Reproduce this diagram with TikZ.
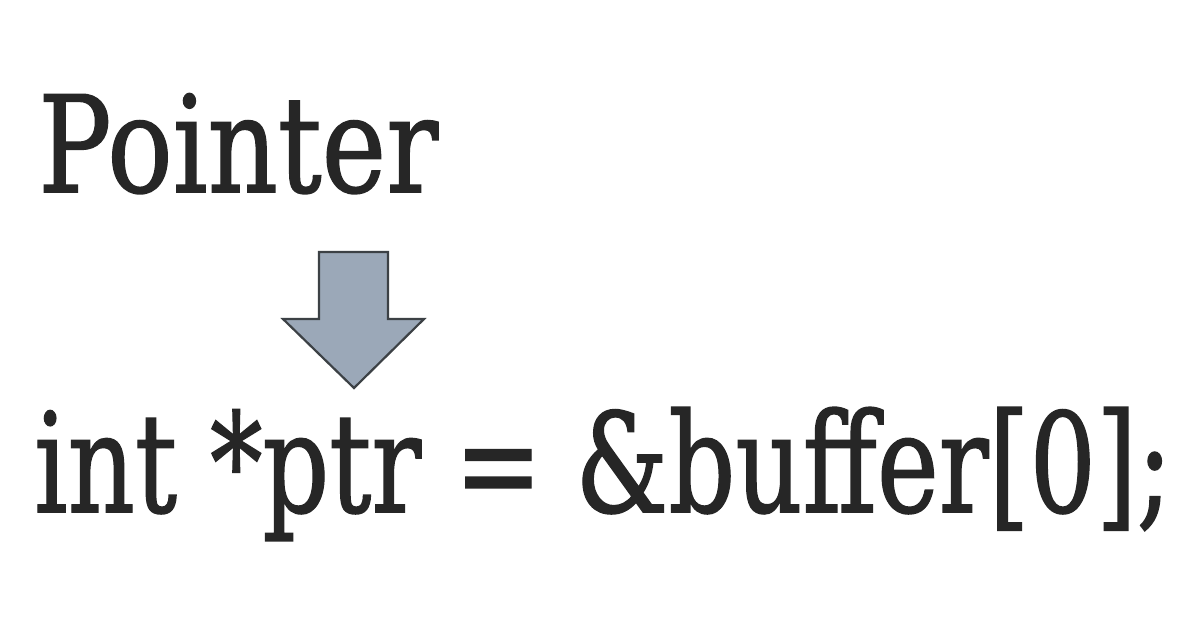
\documentclass[tikz,border=0pt]{standalone}
\usepackage{fontspec}
\setmainfont[FakeBold=1.2]{DejaVu Serif}
\usepackage{graphicx}
\usepackage{xcolor}
\usetikzlibrary{positioning}

\definecolor{textgray}{HTML}{262626}
\definecolor{arrowfill}{HTML}{9BA8B8}
\definecolor{arrowline}{HTML}{3C4145}

% squeeze a text to a given width, keeping its height
\newcommand{\squeezed}[3]{\resizebox{#1}{\height}{\fontsize{#2}{#2}\selectfont #3}}

\begin{document}
\begin{tikzpicture}[x=1pt,y=1pt,
    bigtext/.style={inner sep=0pt, anchor=base west, text=textgray}]
    % page
    \useasboundingbox (0,0) rectangle (1200,630);
    \fill[white] (0,0) rectangle (1200,630);

    % Title
    \node[bigtext] (title) at (38pt, 438pt) {\squeezed{400pt}{134pt}{Pointer}};

    % Arrow
    \draw[line width=2.2pt, line join=miter, fill=arrowfill, draw=arrowline]
      (319pt, 378pt) -- (388pt, 378pt) -- (388pt, 311pt) -- (424pt, 311pt)
      -- (354pt, 242pt) -- (283pt, 311pt) -- (319pt, 311pt) -- cycle;

    % Code line
    \node[bigtext] (code) at (34pt, 118pt)
      {\squeezed{1138pt}{138pt}{int *ptr = \&buffer[0];}};
\end{tikzpicture}
\end{document}
